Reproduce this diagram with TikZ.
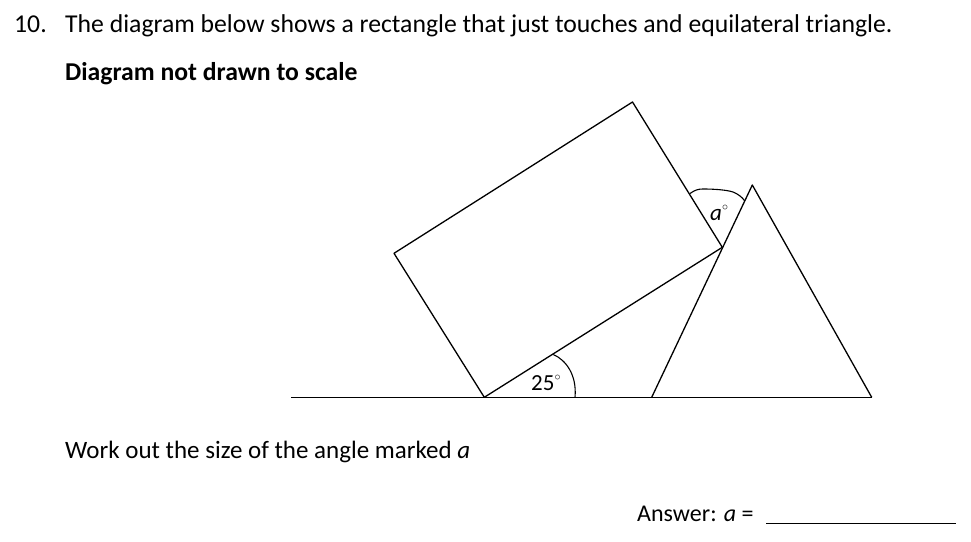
\documentclass[tikz,border=0pt]{standalone}
\usepackage{fontspec}
\setmainfont{Carlito}
\begin{document}
\begin{tikzpicture}[x=1pt,y=-1pt,
  shape line/.style={line width=1.3pt,line join=round},
  arcline/.style={line width=1.1pt},
  txt/.style={anchor=base west,inner sep=0pt,font=\fontsize{25.7}{30}\selectfont},
  lbl/.style={inner sep=0pt,font=\fontsize{23}{26}\selectfont}]
\useasboundingbox (0,0) rectangle (971,541);
% coordinates
\coordinate (B) at (484.3,397.3);   % rectangle bottom corner
\coordinate (L) at (394,253.3);     % rectangle left corner
\coordinate (T) at (632.5,102);     % rectangle top corner
\coordinate (R) at (722.3,247.3);   % rectangle right corner
\coordinate (P) at (651.7,397.3);   % triangle left base
\coordinate (A) at (752.3,185);     % triangle apex
\coordinate (Q) at (871.7,397.3);   % triangle right base
\coordinate (G) at (291,397.3);     % ground left end
% ground line
\draw[shape line] (G) -- (Q);
% rectangle
\draw[shape line] (B) -- (L) -- (T) -- (R) -- cycle;
% triangle
\draw[shape line] (P) -- (A) -- (Q);
% angle arcs
\coordinate (s1) at (553.3,354.5);
\coordinate (e1) at (575,397.3);
\draw[arcline] (s1) .. controls (566,360) and (577,375) .. (e1);
\coordinate (s2) at (690,193.5);
\coordinate (m2) at (703,189);
\coordinate (n2) at (733,192);
\coordinate (e2) at (744.8,201);
\draw[arcline] (s2) .. controls (695,190) and (698,189) .. (m2)
  .. controls (715,189) and (727,190) .. (n2)
  .. controls (738,194) and (742,197) .. (e2);
% angle labels
\node[lbl,anchor=base west] (l25) at (531,390) {25$^{\scriptscriptstyle\circ}$};
\node[lbl,anchor=base west] (la) at (710,220) {\textit{a}$^{\scriptscriptstyle\circ}$};
% texts
\node[txt] (num) at (14,32.5) {10.};
\node[txt] (title) at (65,32.5) {The diagram below shows a rectangle that just touches and equilateral triangle.};
\node[txt,font=\fontsize{25.7}{30}\selectfont\bfseries] (nts) at (65,80.5) {Diagram not drawn to scale};
\node[txt,font=\fontsize{25}{30}\selectfont] (work) at (65,458.5) {Work out the size of the angle marked \textit{a}};
\node[txt,font=\fontsize{24}{28}\selectfont] (ans) at (637,521) {Answer: \textit{a} =};
\coordinate (u1) at (766,523.5);
\coordinate (u2) at (956,523.5);
\draw[line width=1.2pt] (u1) -- (u2);
\end{tikzpicture}
\end{document}
